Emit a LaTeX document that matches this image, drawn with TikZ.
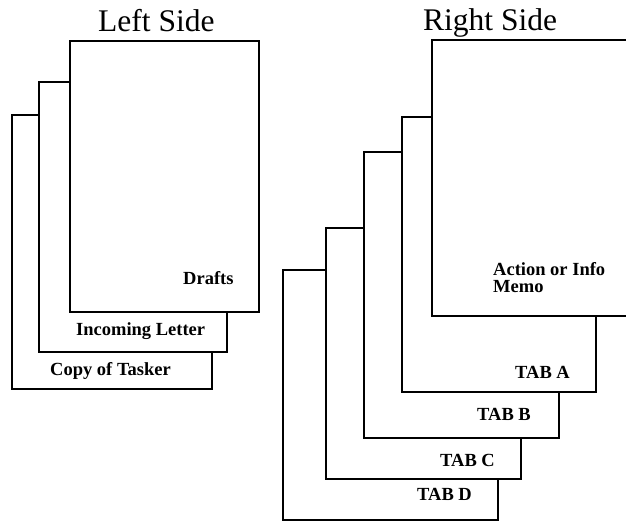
\documentclass[tikz,border=0pt]{standalone}
\usepackage{fontspec}
\setmainfont{Liberation Serif}
\begin{document}
\begin{tikzpicture}[x=1pt,y=-1pt,
  page/.style={draw=black, fill=white, line width=1.6pt, inner sep=0pt, outer sep=0pt, anchor=north west},
  lbl/.style={font=\fontsize{18.5}{20}\selectfont\bfseries, inner sep=0pt, anchor=base west},
  ttl/.style={font=\fontsize{31.5}{34}\selectfont, inner sep=0pt, anchor=base west}]
\useasboundingbox (0,0) rectangle (626,523);
\clip (0,0) rectangle (626,523);
% Left side
\node[page, minimum width=200pt, minimum height=274pt] (tasker) at (12,115) {};
\node[page, minimum width=188pt, minimum height=270pt] (incoming) at (39,82) {};
\node[page, minimum width=189pt, minimum height=271pt] (drafts) at (70,41) {};
\node[lbl] (tdrafts) at (183,284) {Drafts};
\node[lbl] (tincoming) at (76,335) {Incoming Letter};
\node[lbl] (ttasker) at (50,375) {Copy of Tasker};
\node[ttl] (leftside) at (98,31) {Left Side};
% Right side
\node[page, minimum width=215pt, minimum height=250pt] (tabd) at (283,270) {};
\node[page, minimum width=195pt, minimum height=251pt] (tabc) at (326,228) {};
\node[page, minimum width=195pt, minimum height=286pt] (tabb) at (364,152) {};
\node[page, minimum width=194pt, minimum height=275pt] (taba) at (402,117) {};
\node[page, minimum width=210pt, minimum height=276pt] (memo) at (432,40) {};
\node[lbl] (tmemo1) at (493,275) {Action or Info};
\node[lbl] (tmemo2) at (493,292) {Memo};
\node[lbl] (ttaba) at (515,378) {TAB A};
\node[lbl] (ttabb) at (477,420) {TAB B};
\node[lbl] (ttabc) at (440,466) {TAB C};
\node[lbl] (ttabd) at (417,500) {TAB D};
\node[ttl] (rightside) at (423,30) {Right Side};
\end{tikzpicture}
\end{document}
